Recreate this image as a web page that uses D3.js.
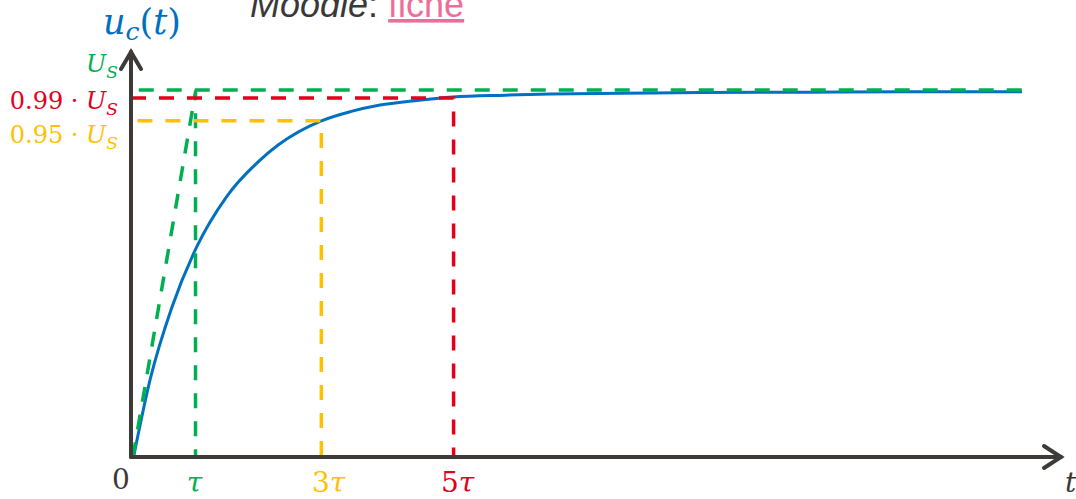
<!DOCTYPE html>
<html>
<head>
<meta charset="utf-8">
<script src="https://cdn.jsdelivr.net/npm/d3@7"></script>
<style>
  html, body { margin: 0; padding: 0; background: #fff; }
  svg { display: block; }
</style>
</head>
<body>
<svg id="chart" width="1076" height="499"></svg>
<script>
// ---- data (t in units of tau, u in units of U_S) ----
const curveT = [0.04, 0.295, 0.63, 1.02, 1.48, 2.0, 2.28, 2.95, 3.4, 3.86, 4.4, 4.99, 5.8, 6.5, 7.6, 8.82, 10.5, 12.0, 13.81];
const curveU = [0, 0.21, 0.406, 0.573, 0.709, 0.809, 0.85, 0.916, 0.941, 0.959, 0.971, 0.981, 0.986, 0.989, 0.991, 0.993, 0.994, 0.995, 0.995];

const levelNames = ["U_S", "0.99 · U_S", "0.95 · U_S"];
const levelValues = [1, 0.978, 0.916];
const levelStart = [0.12, 0.0, 0.1];
const levelEnd = [13.81, 5, 2.95];

const tangentT = [0.03, 1];
const tangentU = [0, 0.995];

const tickValues = [1, 3, 5];
const tickLabels = ["τ", "3τ", "5τ"];

// ---- styles ----
const C = { green: "#00B050", red: "#E3001B", yellow: "#FFC000", blue: "#0070C0", axis: "#3D3A38", pink: "#EC6E9B", gray: "#3B3838" };
const levelColors = [C.green, C.red, C.yellow];
const tickColors = [C.green, C.yellow, C.red];
const serif = "'DejaVu Serif', 'Liberation Serif', serif";

const svg = d3.select("#chart");
const x = d3.scaleLinear().domain([0, 14.43]).range([131, 1062]);
const y = d3.scaleLinear().domain([0, 1]).range([457, 90]);

// blue curve
const curvePts = curveT.map((t, i) => [t, curveU[i]]);
const smooth = d3.line().x(d => x(d[0])).y(d => y(d[1])).curve(d3.curveMonotoneX);
svg.append("path")
  .attr("d", smooth(curvePts))
  .attr("fill", "none").attr("stroke", C.blue).attr("stroke-width", 3);

const dash = "15,13";
const plain = d3.line().x(d => x(d[0])).y(d => y(d[1]));

// green tangent + vertical at tau
svg.append("path")
  .attr("d", plain([[tangentT[0], tangentU[0]], [tangentT[1], tangentU[1]], [tangentT[1], 0]]))
  .attr("fill", "none").attr("stroke", C.green).attr("stroke-width", 3.5)
  .attr("stroke-dasharray", dash).attr("stroke-linejoin", "round");

// level lines
levelValues.forEach((v, i) => {
  let pts;
  if (i === 0) pts = [[levelStart[i], v], [levelEnd[i], v]];
  else pts = [[levelStart[i], v], [levelEnd[i], v], [levelEnd[i], 0]];
  svg.append("path")
    .attr("d", plain(pts))
    .attr("fill", "none").attr("stroke", levelColors[i]).attr("stroke-width", 3.5)
    .attr("stroke-dasharray", dash);
});

// axes
const ax = svg.append("g").attr("stroke", C.axis).attr("stroke-width", 4).attr("fill", "none")
  .attr("stroke-linecap", "round").attr("stroke-linejoin", "miter");
ax.append("line").attr("x1", x(0)).attr("y1", y(0)).attr("x2", x(0)).attr("y2", 52);
ax.append("path").attr("d", `M${x(0) - 10},69 L${x(0)},52 L${x(0) + 10},69`);
ax.append("line").attr("x1", x(0)).attr("y1", y(0)).attr("x2", 1061).attr("y2", y(0));
ax.append("path").attr("d", `M1044,446 L1061,${y(0)} L1044,468`);

// tick labels
svg.append("text").attr("x", 121).attr("y", 489).attr("text-anchor", "middle")
  .attr("font-family", serif).attr("font-size", 28).attr("fill", C.gray).text("0");
tickValues.forEach((t, i) => {
  svg.append("text").attr("x", x(t) + (i === 0 ? -1 : 4)).attr("y", 492).attr("text-anchor", "middle")
    .attr("font-family", serif).attr("font-size", 28).attr("fill", tickColors[i])
    .selectAll("tspan").data(tickLabels[i].split("")).join("tspan")
    .attr("font-style", d => d === "τ" ? "italic" : "normal").text(d => d);
});
svg.append("text").attr("x", 1065).attr("y", 492).attr("font-family", serif).attr("font-style", "italic")
  .attr("font-size", 28).attr("fill", C.gray).text("t");

// level labels
const labelY = [72, 109, 143];
levelNames.forEach((name, i) => {
  const t = svg.append("text").attr("x", 118).attr("y", labelY[i]).attr("text-anchor", "end")
    .attr("font-family", serif).attr("font-size", 24).attr("fill", levelColors[i]);
  const parts = name.split("U_S");
  if (parts[0]) t.append("tspan").text(parts[0]);
  t.append("tspan").attr("font-style", "italic").text("U");
  t.append("tspan").attr("font-style", "italic").attr("font-size", 17).attr("dy", 6).text("S");
});

// y axis title u_c(t)
const yt = svg.append("text").attr("x", 103).attr("y", 34).attr("font-family", serif)
  .attr("font-size", 35).attr("fill", C.blue);
yt.append("tspan").attr("font-style", "italic").text("u");
yt.append("tspan").attr("font-style", "italic").attr("font-size", 25).attr("dy", 6).text("c");
yt.append("tspan").attr("dy", -6).text("(");
yt.append("tspan").attr("font-style", "italic").text("t");
yt.append("tspan").text(")");

// top caption (cut at the top edge, as in the reference)
const cap = svg.append("text").attr("x", 250).attr("y", 17)
  .attr("font-family", "'Liberation Sans', Arial, sans-serif").attr("font-size", 36).attr("fill", C.gray);
cap.append("tspan").attr("font-style", "italic").text("Moodle");
cap.append("tspan").text(": ");
cap.append("tspan").attr("fill", C.pink).attr("text-decoration", "underline").text("fiche");
</script>
</body>
</html>
